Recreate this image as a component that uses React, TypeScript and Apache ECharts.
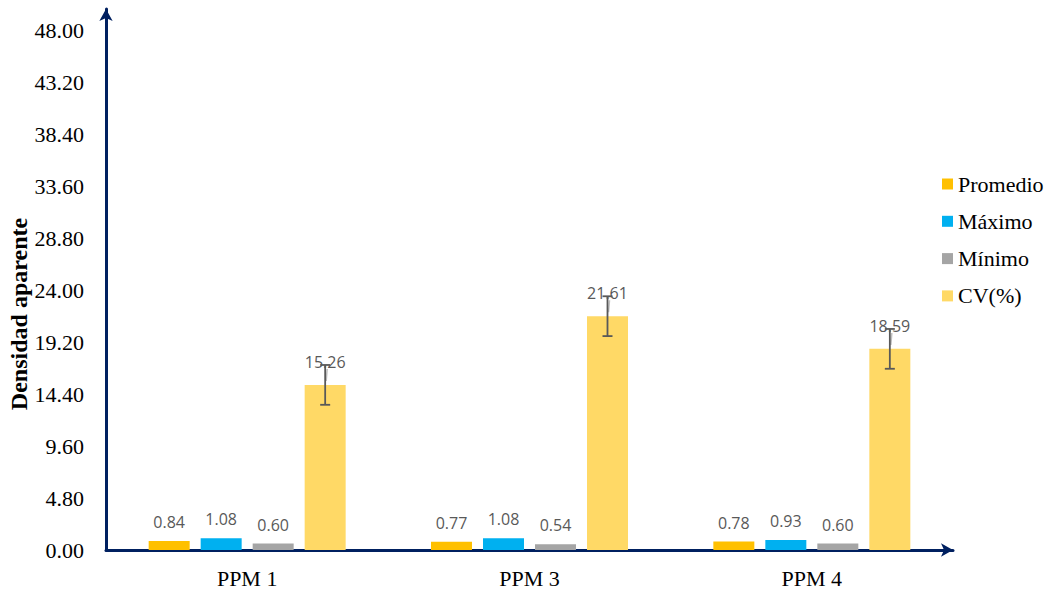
import React, { useEffect, useRef } from "react";
import * as echarts from "echarts";

const categories = ["PPM 1", "PPM 3", "PPM 4"];
const promedio = [0.84, 0.77, 0.78];
const maximo = [1.08, 1.08, 0.93];
const minimo = [0.6, 0.54, 0.6];
const cv = [15.26, 21.61, 18.59];
const cvError = [1.84, 1.84, 1.84];
const seriesNames = ["Promedio", "Máximo", "Mínimo", "CV(%)"];
const colors = ["#FFC000", "#00B0F0", "#A5A5A5", "#FFD966"];

const BAR_W = 41;
const GAP = 11;
const SERIF = "Liberation Serif";

export default function App() {
  const ref = useRef<HTMLDivElement>(null);
  useEffect(() => {
    if (!ref.current) return;
    const chart = echarts.init(ref.current, null, { renderer: "svg" });
    const labelStyle = (dist: number) => ({
      show: true,
      position: "top",
      distance: dist,
      color: "#595959",
      fontFamily: "Open Sans",
      fontSize: 16,
      formatter: (p: any) => Number(p.value).toFixed(2),
    });
    const valuesList = [promedio, maximo, minimo, cv];
    const bars = valuesList.map((vals, i) => ({
      type: "bar",
      name: seriesNames[i],
      data: vals,
      barWidth: BAR_W,
      barGap: (GAP / BAR_W) * 100 + "%",
      itemStyle: { color: colors[i] },
      label: labelStyle(i === 3 ? 15 : 11),
      z: 2,
    }));
    const errData = cv.map((v, i) => [i, v, cvError[i]]);
    const legendItems: any[] = [];
    seriesNames.forEach((n, i) => {
      const cy = 184 + i * 37.3;
      legendItems.push({
        type: "rect",
        shape: { x: 942, y: cy - 5.5, width: 11, height: 11 },
        style: { fill: colors[i] },
      });
      legendItems.push({
        type: "text",
        x: 958,
        y: cy,
        style: {
          text: n,
          fontFamily: SERIF,
          fontSize: 22,
          fill: "#000",
          align: "left",
          verticalAlign: "middle",
        },
      });
    });
    const option: any = {
      animation: false,
      textStyle: { fontFamily: SERIF },
      grid: { left: 106, right: 94, top: 9, bottom: 37 },
      legend: { show: false, data: seriesNames },
      graphic: [
        {
          type: "text",
          x: 19,
          y: 314,
          rotation: Math.PI / 2,
          style: {
            text: "Densidad aparente",
            fontFamily: SERIF,
            fontSize: 24,
            fontWeight: "bold",
            fill: "#000",
            align: "center",
            verticalAlign: "middle",
          },
        },
        ...legendItems,
      ],
      xAxis: {
        type: "category",
        data: categories,
        axisLine: {
          lineStyle: { color: "#002060", width: 3 },
          symbol: ["none", "arrow"],
          symbolSize: [10, 12],
        },
        axisTick: { show: false },
        axisLabel: {
          margin: 17,
          fontFamily: SERIF,
          fontSize: 22,
          color: "#000",
        },
      },
      yAxis: {
        type: "value",
        min: 0,
        max: 50,
        interval: 4.8,
        splitLine: { show: false },
        axisTick: { show: false },
        axisLine: {
          show: true,
          lineStyle: { color: "#002060", width: 3 },
          symbol: ["none", "arrow"],
          symbolSize: [10, 12],
        },
        axisLabel: {
          showMaxLabel: false,
          margin: 22,
          fontFamily: SERIF,
          fontSize: 22,
          color: "#000",
          formatter: (v: number) => v.toFixed(2),
        },
      },
      series: [
        ...bars,
        {
          type: "custom",
          name: "err",
          data: errData,
          z: 5,
          encode: { x: 0, y: 1 },
          renderItem: (params: any, api: any) => {
            const idx = api.value(0);
            const v = api.value(1);
            const e = api.value(2);
            const off = 1.5 * (BAR_W + GAP);
            const top = api.coord([idx, v + e]);
            const bot = api.coord([idx, v - e]);
            const x = top[0] + off;
            const cap = 5;
            const style = { stroke: "#595959", lineWidth: 1.8 };
            return {
              type: "group",
              children: [
                { type: "line", shape: { x1: x + 2, y1: top[1] + 4, x2: x + 1, y2: top[1] + 16 }, style: { stroke: "#BFBFBF", lineWidth: 1.5 } },
                { type: "line", shape: { x1: x, y1: top[1], x2: x, y2: bot[1] }, style },
                { type: "line", shape: { x1: x - cap, y1: top[1], x2: x + cap, y2: top[1] }, style },
                { type: "line", shape: { x1: x - cap, y1: bot[1], x2: x + cap, y2: bot[1] }, style },
              ],
            };
          },
        },
      ],
    };
    chart.setOption(option);
    return () => chart.dispose();
  }, []);
  return (
    <div
      ref={ref}
      style={{ position: "fixed", left: 0, top: 0, width: 1047, height: 589, background: "#fff" }}
    />
  );
}
